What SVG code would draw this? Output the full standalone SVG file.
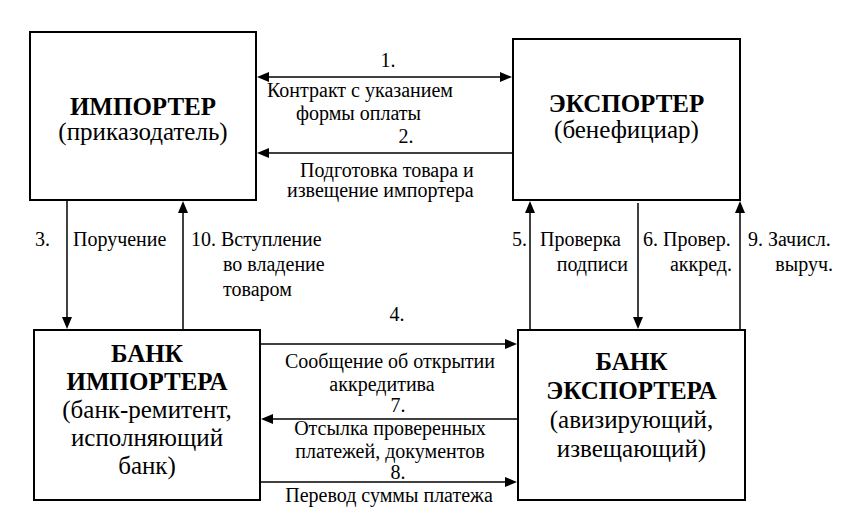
<svg xmlns="http://www.w3.org/2000/svg" width="867" height="530" viewBox="0 0 867 530">
<style>
text{font-family:'Liberation Serif',serif}
.box{fill:#fff;stroke:#000;stroke-width:2}
.ln{stroke:#000;stroke-width:1.5;fill:none}
.ah{fill:#000}
.t{font-size:25px;font-weight:bold;text-anchor:middle}
.s{font-size:25px;text-anchor:middle}
.l{font-size:20px}
.c{text-anchor:middle}
.e{text-anchor:end}
</style>
<rect width="867" height="530" fill="#fff"/>
<g id="importer">
<rect class="box" x="30" y="32" width="226" height="168"/>
<text class="t" x="143" y="115">ИМПОРТЕР</text>
<text class="s" x="143" y="140">(приказодатель)</text>
</g>
<g id="exporter">
<rect class="box" x="513" y="39" width="227" height="161"/>
<text class="t" x="626.5" y="112">ЭКСПОРТЕР</text>
<text class="s" x="626.5" y="138">(бенефициар)</text>
</g>
<g id="bank-importer">
<rect class="box" x="34" y="330" width="226" height="170"/>
<text class="t" x="147" y="362">БАНК</text>
<text class="t" x="147" y="390">ИМПОРТЕРА</text>
<text class="s" x="147" y="418">(банк-ремитент,</text>
<text class="s" x="147" y="446">исполняющий</text>
<text class="s" x="147" y="474">банк)</text>
</g>
<g id="bank-exporter">
<rect class="box" x="518" y="330" width="227" height="170"/>
<text class="t" x="631.5" y="370">БАНК</text>
<text class="t" x="631.5" y="399">ЭКСПОРТЕРА</text>
<text class="s" x="631.5" y="428">(авизирующий,</text>
<text class="s" x="631.5" y="457">извещающий)</text>
</g>
<g id="connectors">
<line class="ln" x1="268" y1="77" x2="501" y2="77"/>
<polygon class="ah" points="257,77 269,72 269,82"/>
<polygon class="ah" points="512,77 500,72 500,82"/>
<line class="ln" x1="513" y1="153" x2="268" y2="153"/>
<polygon class="ah" points="257,153 269,148 269,158"/>
<line class="ln" x1="67" y1="201" x2="67" y2="318"/>
<polygon class="ah" points="67,329 62,317 72,317"/>
<line class="ln" x1="183" y1="330" x2="183" y2="212"/>
<polygon class="ah" points="183,201 178,213 188,213"/>
<line class="ln" x1="261" y1="344" x2="506" y2="344"/>
<polygon class="ah" points="517,344 505,339 505,349"/>
<line class="ln" x1="518" y1="419" x2="272" y2="419"/>
<polygon class="ah" points="261,419 273,414 273,424"/>
<line class="ln" x1="261" y1="482" x2="506" y2="482"/>
<polygon class="ah" points="517,482 505,477 505,487"/>
<line class="ln" x1="530" y1="330" x2="530" y2="212"/>
<polygon class="ah" points="530,201 525,213 535,213"/>
<line class="ln" x1="638" y1="203" x2="638" y2="318"/>
<polygon class="ah" points="638,329 633,317 643,317"/>
<line class="ln" x1="740" y1="330" x2="740" y2="212"/>
<polygon class="ah" points="740,201 735,213 745,213"/>
</g>
<g id="labels">
<text class="l c" x="388" y="67">1.</text>
<text class="l" x="267" y="97">Контракт с указанием</text>
<text class="l" x="296" y="120">формы оплаты</text>
<text class="l c" x="406" y="143">2.</text>
<text class="l" x="300" y="177">Подготовка товара и</text>
<text class="l" x="287" y="197">извещение импортера</text>
<text class="l" x="35" y="246">3.</text>
<text class="l" x="73" y="246">Поручение</text>
<text class="l" x="191" y="246">10. Вступление</text>
<text class="l" x="223" y="271">во владение</text>
<text class="l" x="223" y="296">товаром</text>
<text class="l c" x="397" y="321">4.</text>
<text class="l e" x="527" y="246">5.</text>
<text class="l" x="540" y="246">Проверка</text>
<text class="l e" x="628" y="271">подписи</text>
<text class="l" x="643" y="246">6. Провер.</text>
<text class="l e" x="732" y="271">аккред.</text>
<text class="l" x="748" y="246">9. Зачисл.</text>
<text class="l e" x="833" y="271">выруч.</text>
<text class="l c" x="390" y="368">Сообщение об открытии</text>
<text class="l c" x="382" y="391">аккредитива</text>
<text class="l c" x="398" y="412">7.</text>
<text class="l c" x="390" y="435">Отсылка проверенных</text>
<text class="l c" x="390" y="458">платежей, документов</text>
<text class="l c" x="398" y="479">8.</text>
<text class="l c" x="389" y="502">Перевод суммы платежа</text>
</g>
</svg>
